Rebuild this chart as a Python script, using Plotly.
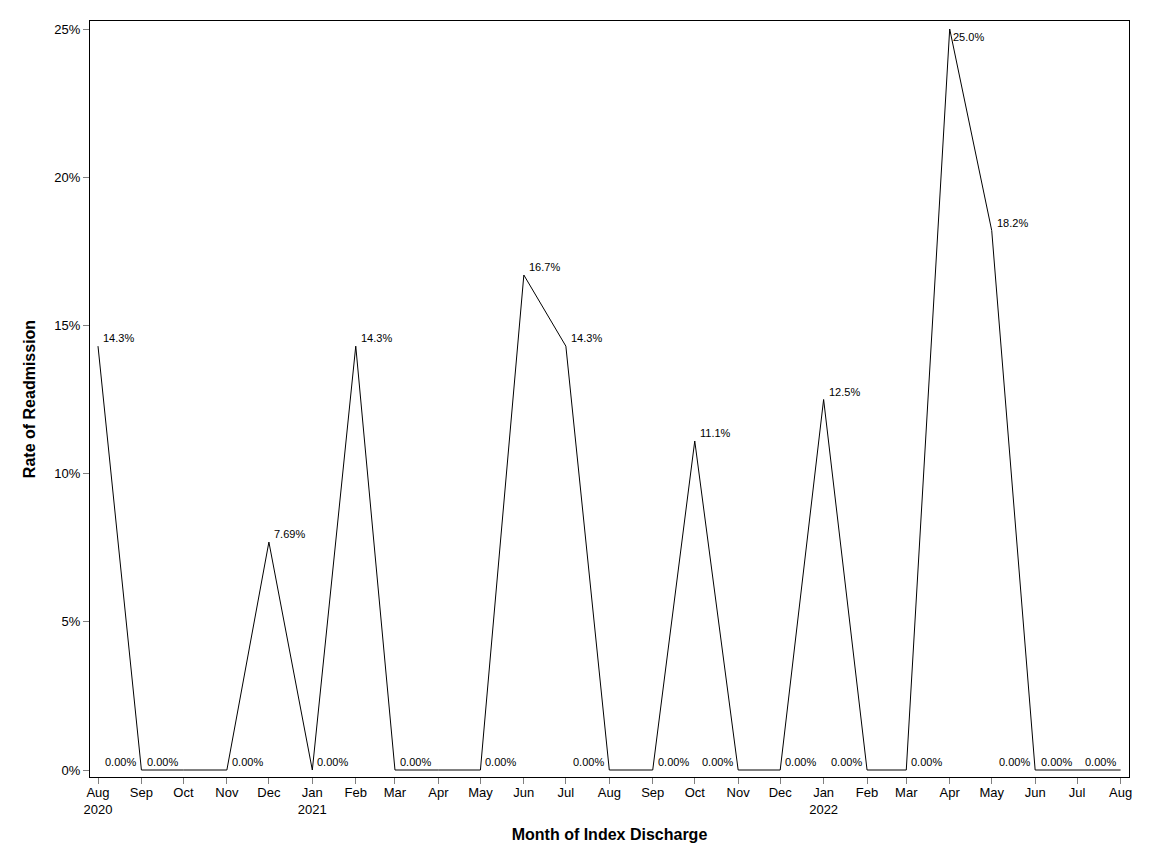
import pandas as pd
import plotly.graph_objects as go

# monthly readmission rate (%), Aug 2020 .. Aug 2022
months = pd.date_range("2020-08-01", "2022-08-01", freq="MS")
rates = [14.3, 0, 0, 0, 7.69, 0, 14.3, 0, 0, 0, 16.7, 14.3, 0,
         0, 11.1, 0, 0, 12.5, 0, 0, 25.0, 18.2, 0, 0, 0]
# where each point label sits ("" = label not drawn)
label_pos = ["top right", "top left", "top left", "top right", "top right",
             "top right", "top right", "top right", "", "top right",
             "top right", "top right", "top left", "top right", "top right",
             "top left", "top right", "top right", "top left", "top right",
             "bottom right", "top right", "top left", "top left", "top left"]

y_ticks = [0, 5, 10, 15, 20, 25]
y_tick_text = [f"{t}%" for t in y_ticks]

tick_text = []
for d in months:
    if d == months[0] or d.month == 1:
        tick_text.append(f"{d:%b}<br>{d:%Y}")
    else:
        tick_text.append(f"{d:%b}")

fig = go.Figure()
fig.add_trace(go.Scatter(
    x=months,
    y=rates,
    mode="lines",
    line=dict(color="black", width=1),
    hoverinfo="x+y",
    showlegend=False
))

# point labels
for d, v, p in zip(months, rates, label_pos):
    if not p:
        continue
    txt = format(float(v), "#.3g") + "%"
    right = p.endswith("right")
    top = p.startswith("top")
    fig.add_annotation(
        x=d, y=v, text=txt, showarrow=False,
        xanchor="left" if right else "right",
        yanchor="middle",
        xshift=(3 if top else 1) if right else -3,
        yshift=8 if top else -8,
        font=dict(size=11, color="black"),
    )

fig.update_layout(
    width=1136,
    height=848,
    margin=dict(l=82, r=12, t=13, b=79),
    plot_bgcolor="white",
    paper_bgcolor="white",
    font=dict(family="Liberation Sans", size=13, color="black"),
)
fig.update_xaxes(
    range=["2020-07-26 07:00", "2022-08-07 00:00"],
    tickvals=months,
    ticktext=tick_text,
    ticks="outside",
    ticklen=6,
    tickcolor="#808080",
    ticklabelstandoff=-3,
    showgrid=False,
    zeroline=False,
    showline=True,
    linecolor="black",
    linewidth=1,
    mirror=True,
    title=dict(text="<b>Month of Index Discharge</b>", font=dict(size=16), standoff=13),
)
fig.update_yaxes(
    range=[-0.236, 25.27],
    tickvals=y_ticks,
    ticktext=y_tick_text,
    ticks="outside",
    ticklen=6,
    tickcolor="#808080",
    showgrid=False,
    zeroline=False,
    showline=True,
    linecolor="black",
    linewidth=1,
    mirror=True,
    title=dict(text="<b>Rate of Readmission</b>", font=dict(size=16), standoff=14),
)

fig.write_html("out.html")
